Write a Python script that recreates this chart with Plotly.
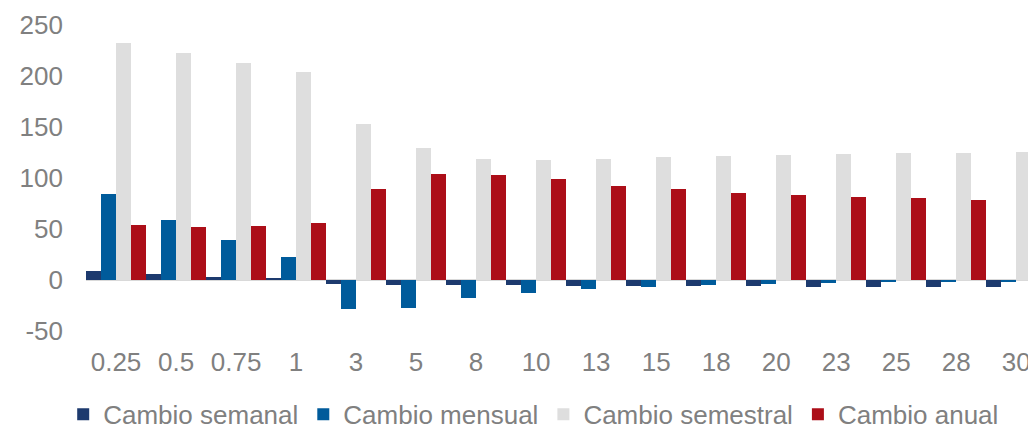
import plotly.graph_objects as go

categories = ["0.25", "0.5", "0.75", "1", "3", "5", "8", "10", "13", "15", "18", "20", "23", "25", "28", "30"]
semanal = [8.5, 5.6, 3.3, 1.5, -3.5, -4.5, -4.5, -4.5, -5.5, -5.5, -6.0, -6.2, -6.8, -6.8, -7.0, -7.0]
mensual = [84, 59.2, 39.2, 22.9, -28, -27.7, -17.9, -13, -8.8, -6.9, -4.9, -4.2, -2.6, -1.8, -1.3, -1.0]
semestral = [232.4, 222.5, 212.7, 204.3, 153.3, 129.4, 118.3, 117.4, 119.0, 120.3, 121.6, 122.5, 123.5, 124.5, 124.9, 125.2]
anual = [54.3, 52.3, 53.3, 55.6, 89.2, 104.3, 103.0, 98.7, 91.9, 88.9, 85.3, 83.7, 81.4, 80.1, 78.8, 77.8]
y_ticks = [-50, 0, 50, 100, 150, 200, 250]
y_tick_labels = ["-50", "0", "50", "100", "150", "200", "250"]

series = [
    ("Cambio semanal", semanal, "#1d3a6e"),
    ("Cambio mensual", mensual, "#005b9b"),
    ("Cambio semestral", semestral, "#dedede"),
    ("Cambio anual", anual, "#ac0e18"),
]

fig = go.Figure()
for name, vals, color in series:
    fig.add_trace(go.Bar(x=categories, y=vals, name=name,
                         marker=dict(color=color, line=dict(width=0))))

FONT = "Liberation Sans, Arial, sans-serif"
GRAY = "#808080"

fig.update_layout(
    template="none",
    width=1028, height=420,
    margin=dict(l=78, r=0, t=17, b=97, autoexpand=False),
    paper_bgcolor="white", plot_bgcolor="white",
    barmode="group", bargap=0, bargroupgap=0,
    font=dict(family=FONT, size=26, color=GRAY),
    showlegend=True,
    legend=dict(orientation="h", x=-0.024, xanchor="left", y=-0.272, yanchor="middle",
                font=dict(family=FONT, size=26, color=GRAY),
                itemwidth=30, tracegroupgap=0, bgcolor="rgba(0,0,0,0)"),
    xaxis=dict(type="category", range=[-0.5, 15.33], showgrid=False, showline=False,
               zeroline=False, ticks="", ticklabelstandoff=13, automargin=False,
               tickfont=dict(family=FONT, size=26, color=GRAY)),
    yaxis=dict(range=[-50, 250], tickvals=y_ticks, ticktext=y_tick_labels,
               showgrid=False, showline=False, zeroline=True,
               zerolinecolor="#d9d9d9", zerolinewidth=1.5,
               ticks="", ticklabelstandoff=22, automargin=False,
               tickfont=dict(family=FONT, size=26, color=GRAY)),
)

fig.write_html("out.html")
